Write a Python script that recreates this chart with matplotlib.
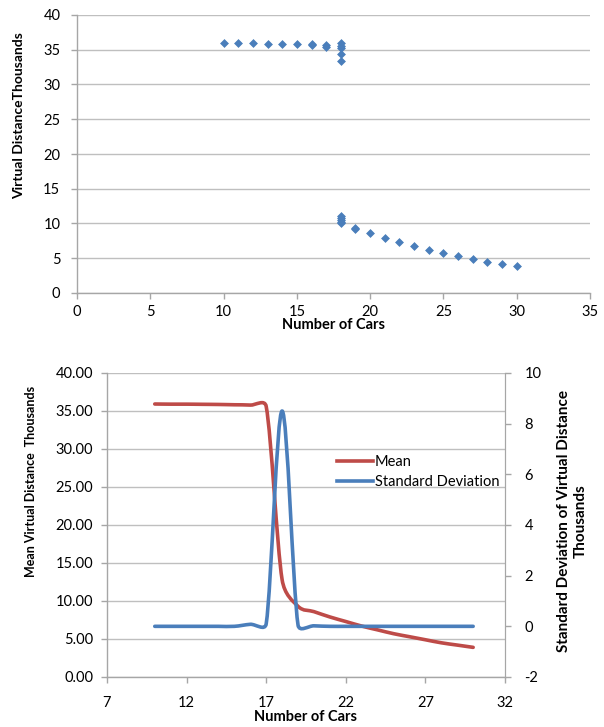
import numpy as np
import matplotlib
matplotlib.use("Agg")
import matplotlib.pyplot as plt
from matplotlib.path import Path
from matplotlib.patches import PathPatch
from matplotlib.lines import Line2D
from matplotlib.ticker import FormatStrFormatter

plt.rcParams['font.family'] = ['Lato', 'DejaVu Sans']
plt.rcParams['axes.unicode_minus'] = False

# ---- individual runs: virtual distance (thousands) vs number of cars ----
run_cars = [10, 11, 12, 13, 14, 15, 16, 16, 17, 17,
            18, 18, 18, 18, 18, 18, 18, 18, 18, 18,
            19, 19, 20, 21, 22, 23, 24, 25, 26, 27, 28, 29, 30]
run_distance = [35.92, 35.9, 35.9, 35.88, 35.86, 35.82, 35.8, 35.7, 35.7, 35.45,
                35.93, 35.58, 35.21, 34.39, 33.38, 11.1, 10.8, 10.5, 10.2, 10.0,
                9.4, 9.2, 8.57, 7.86, 7.29, 6.71, 6.19, 5.71, 5.29, 4.9, 4.52, 4.24, 3.86]

# ---- summary per car count ----
cars = [10, 11, 12, 13, 14, 15, 16, 17, 18, 19, 20,
        21, 22, 23, 24, 25, 26, 27, 28, 29, 30]
mean_distance = [35.92, 35.9, 35.9, 35.88, 35.86, 35.82, 35.78, 35.6, 12.8, 9.3, 8.6,
                 7.9, 7.3, 6.7, 6.2, 5.7, 5.3, 4.9, 4.5, 4.2, 3.9]
std_distance = [0.0, 0.0, 0.0, 0.0, 0.0, 0.0, 0.08, 0.1, 8.5, 0.05, 0.02,
                0.0, 0.0, 0.0, 0.0, 0.0, 0.0, 0.0, 0.0, 0.0, 0.0]

BLUE = '#4A7EBB'
RED = '#BE4B48'
GRID = '#BFBFBF'
AXIS = '#A6A6A6'
TXT = '#000000'
W, H = 604, 727


def px(x, y):
    """Pixel position (from top-left) to figure fraction."""
    return x / W, 1 - y / H


def smooth_line(ax, x, y, **kw):
    """Spreadsheet-style smoothed line: cubic Bezier through every point,
    control points computed in display space."""
    pts = ax.transData.transform(np.column_stack([x, y]))
    n = len(pts)
    verts = [pts[0]]
    codes = [Path.MOVETO]
    for i in range(n - 1):
        p0 = pts[i - 1] if i > 0 else pts[i]
        p1 = pts[i]
        p2 = pts[i + 1]
        p3 = pts[i + 2] if i + 2 < n else pts[i + 1]
        d12 = np.linalg.norm(p2 - p1)
        d02 = np.linalg.norm(p2 - p0)
        d13 = np.linalg.norm(p3 - p1)
        f1 = min(1 / 6, d12 / (2 * d02)) if d02 > 0 else 0
        f2 = min(1 / 6, d12 / (2 * d13)) if d13 > 0 else 0
        b1 = p1 + (p2 - p0) * f1
        b2 = p2 - (p3 - p1) * f2
        verts += [b1, b2, p2]
        codes += [Path.CURVE4] * 3
    vdata = ax.transData.inverted().transform(np.array(verts))
    patch = PathPatch(Path(vdata, codes), fill=False, transform=ax.transData,
                      capstyle='round', joinstyle='round', **kw)
    ax.add_patch(patch)
    return patch


def style_axis(ax):
    for side in ('top', 'right'):
        ax.spines[side].set_visible(False)
    for side in ('left', 'bottom'):
        ax.spines[side].set_color(AXIS)
        ax.spines[side].set_linewidth(1.0)
    ax.tick_params(axis='both', which='major', direction='out', length=4,
                   width=1.0, color=AXIS, labelsize=10.5, labelcolor=TXT)
    ax.yaxis.grid(True, color=GRID, linewidth=1.0)
    ax.set_axisbelow(True)


fig = plt.figure(figsize=(W / 100, H / 100), dpi=100)

# ---------------- top: scatter of runs ----------------
ax1 = fig.add_axes([77 / W, 1 - 293 / H, (590 - 77) / W, (293 - 15) / H])
style_axis(ax1)
ax1.scatter(run_cars, run_distance, marker='D', s=16, color=BLUE,
            edgecolors=BLUE, linewidths=0.5, zorder=3)
ax1.set_xlim(0, 35)
ax1.set_ylim(0, 40)
ax1.set_xticks(np.arange(0, 36, 5))
ax1.set_yticks(np.arange(0, 41, 5))
ax1.tick_params(axis='x', pad=5)
ax1.tick_params(axis='y', pad=8)
fig.text(*px(333, 325), 'Number of Cars', fontsize=10.5, fontweight='bold',
         ha='center', va='center')
fig.text(*px(19, 116), 'Virtual DistanceThousands', fontsize=10,
         fontweight='bold', rotation=90, ha='center', va='center')

# ---------------- bottom: mean and standard deviation ----------------
ax2 = fig.add_axes([107 / W, 1 - 677 / H, (505 - 107) / W, (677 - 373) / H])
style_axis(ax2)
ax2.spines['right'].set_visible(True)
ax2.spines['right'].set_color(AXIS)
ax2.set_xlim(7, 32)
ax2.set_ylim(0, 40)
ax2.set_xticks(np.arange(7, 33, 5))
ax2.set_yticks(np.arange(0, 41, 5))
ax2.yaxis.set_major_formatter(FormatStrFormatter('%.2f'))
ax2.tick_params(axis='x', pad=10)
ax2.tick_params(axis='y', pad=6)
fig.text(*px(306, 717), 'Number of Cars', fontsize=10.5, fontweight='bold',
         ha='center', va='center')
fig.text(*px(31, 481), 'Mean Virtual Distance  Thousands', fontsize=9,
         fontweight='bold', rotation=90, ha='center', va='center')

ax3 = ax2.twinx()
ax3.set_position(ax2.get_position())
for side in ('top', 'left', 'bottom'):
    ax3.spines[side].set_visible(False)
ax3.spines['right'].set_color(AXIS)
ax3.set_ylim(-2, 10)
ax3.set_yticks(np.arange(-2, 11, 2))
ax3.tick_params(axis='y', direction='out', length=4, width=1.0, color=AXIS,
                labelsize=10.5, pad=10)
fig.text(*px(572, 521), 'Standard Deviation of Virtual Distance\nThousands',
         fontsize=11, fontweight='bold', rotation=90, ha='center',
         va='center', multialignment='center', linespacing=1.25)

smooth_line(ax2, cars, mean_distance, color=RED, linewidth=2.6, zorder=3)
smooth_line(ax3, cars, std_distance, color=BLUE, linewidth=2.6, zorder=4)

handles = [Line2D([], [], color=RED, linewidth=2.6),
           Line2D([], [], color=BLUE, linewidth=2.6)]
ax3.legend(handles, ['Mean', 'Standard Deviation'], loc='center left',
           bbox_to_anchor=((337 - 107) / 398, (677 - 472) / 304),
           frameon=False, fontsize=10.5, handlelength=2.5, handletextpad=0.1,
           borderpad=0, borderaxespad=0, labelspacing=0.45)

fig.savefig('out.png', dpi=100)
